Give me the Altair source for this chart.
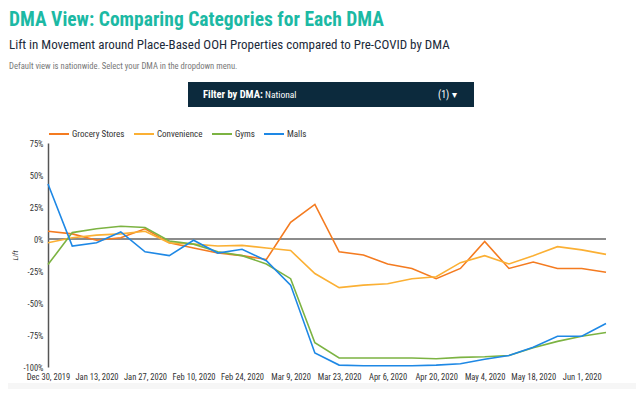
import altair as alt
import pandas as pd

weeks = ["2019-12-30", "2020-01-06", "2020-01-13", "2020-01-20", "2020-01-27", "2020-02-03",
         "2020-02-10", "2020-02-17", "2020-02-24", "2020-03-02", "2020-03-09", "2020-03-16",
         "2020-03-23", "2020-03-30", "2020-04-06", "2020-04-13", "2020-04-20", "2020-04-27",
         "2020-05-04", "2020-05-11", "2020-05-18", "2020-05-25", "2020-06-01", "2020-06-08"]

categories = ["Grocery Stores", "Convenience", "Gyms", "Malls"]
colors = ["#f47b20", "#fbb034", "#7cb342", "#1e88e5"]

grocery = [6, 4, -1, 1, 8, -3, -7, -11, -13, -16, 13, 27, -10, -12.5, -19.5, -23, -31, -23,
           -2, -23, -18, -23, -23, -26]
convenience = [-3, 1, 3, 4, 6, -3, -4, -5.5, -5, -7, -9, -27, -38, -36, -35, -31, -29.5, -18.5,
               -13, -19.5, -13, -6, -8.5, -12]
gyms = [-20, 5, 8, 10, 9, -1.5, -4, -10, -13, -19.5, -31, -81, -93, -93, -93, -93, -93.5, -92.5,
        -92, -91, -85, -80, -76, -73]
malls = [43, -5.5, -3, 5.5, -10, -13, -1, -11, -8, -17, -36, -89, -98.5, -99, -99, -99, -98.5,
         -97.5, -94, -91, -84.5, -76, -76, -66]

y_ticks = [-100, -75, -50, -25, 0, 25, 50, 75]
x_tick_dates = ["2019-12-30", "2020-01-13", "2020-01-27", "2020-02-10", "2020-02-24", "2020-03-09",
                "2020-03-23", "2020-04-06", "2020-04-20", "2020-05-04", "2020-05-18", "2020-06-01"]

title_text = "DMA View: Comparing Categories for Each DMA"
subtitle_text = "Lift in Movement around Place-Based OOH Properties compared to Pre-COVID by DMA"
note_text = "Default view is nationwide. Select your DMA in the dropdown menu."

FONT = "Liberation Sans Narrow, Roboto Condensed, Roboto, sans-serif"

series = {"Grocery Stores": grocery, "Convenience": convenience, "Gyms": gyms, "Malls": malls}
rows = []
for cat, vals in series.items():
    for d, v in zip(weeks, vals):
        rows.append({"date": d, "category": cat, "lift": v})
df = pd.DataFrame(rows)


def dt(s):
    y, m, d = s.split("-")
    return alt.DateTime(year=int(y), month=int(m), date=int(d), utc=True)


x_enc = alt.X(
    "date:T",
    timeUnit="utcyearmonthdate",
    scale=alt.Scale(domain=[dt(weeks[0]), dt(weeks[-1])], nice=False),
    axis=alt.Axis(values=[dt(s) for s in x_tick_dates], format="%b %-d, %Y", title=None,
                  domain=False, ticks=False, grid=False, labelFontSize=8.5, labelColor="#333",
                  labelPadding=5, labelFont=FONT, labelOverlap=False, labelFlush=False),
)

y_scale = alt.Scale(domain=[-100, 75], nice=False)
y_axis = alt.Axis(values=y_ticks, labelExpr="datum.value + '%'", title="Lift", titleFontStyle="italic",
                  titleFontWeight="normal", titleFontSize=8, titleColor="#333", titlePadding=3,
                  domain=True, domainColor="#555", domainWidth=1.5, ticks=False, grid=False,
                  labelFontSize=8.5, labelColor="#333", labelPadding=5, labelFont=FONT, titleFont=FONT,
                  labelOverlap=False)

lines = alt.Chart(df).mark_line(strokeWidth=1.6).encode(
    x=x_enc,
    y=alt.Y("lift:Q", scale=y_scale, axis=y_axis),
    color=alt.Color("category:N", sort=categories,
                    scale=alt.Scale(domain=categories, range=colors),
                    legend=alt.Legend(title=None, orient="none", legendX=0, legendY=-20,
                                      direction="horizontal", symbolType="stroke",
                                      symbolStrokeWidth=2, symbolSize=400, labelFontSize=9,
                                      labelColor="#333", labelFont=FONT, columnPadding=5,
                                      labelOffset=2)),
)

zero = alt.Chart(pd.DataFrame({"lift": [0]})).mark_rule(color="#666", strokeWidth=1.5).encode(
    y=alt.Y("lift:Q", scale=y_scale, axis=y_axis)
)

title = alt.Chart(pd.DataFrame({"t": [title_text]})).mark_text(
    align="left", baseline="alphabetic", font=FONT, fontSize=19.5,
    fontWeight="bold", color="#1cb9a4").encode(
    x=alt.value(-39), y=alt.value(-117), text="t:N")
sub = alt.Chart(pd.DataFrame({"t": [subtitle_text]})).mark_text(
    align="left", baseline="alphabetic", font=FONT, fontSize=13, color="#1b2a3a").encode(
    x=alt.value(-39), y=alt.value(-94), text="t:N")
note = alt.Chart(pd.DataFrame({"t": [note_text]})).mark_text(
    align="left", baseline="alphabetic", font=FONT, fontSize=8.6, color="#777").encode(
    x=alt.value(-39), y=alt.value(-74), text="t:N")

bar = alt.Chart(pd.DataFrame({"a": [0]})).mark_rect(color="#0c2a3d").encode(
    x=alt.value(140), x2=alt.value(426), y=alt.value(-61), y2=alt.value(-36))
f1 = alt.Chart(pd.DataFrame({"t": ["Filter by DMA:"]})).mark_text(
    align="left", baseline="middle", font=FONT, fontSize=10.5, fontWeight="bold", color="white").encode(
    x=alt.value(155), y=alt.value(-48), text="t:N")
f2 = alt.Chart(pd.DataFrame({"t": ["National"]})).mark_text(
    align="left", baseline="middle", font=FONT, fontSize=9.5, color="white").encode(
    x=alt.value(217), y=alt.value(-48), text="t:N")
f3 = alt.Chart(pd.DataFrame({"t": ["(1)  \u25be"]})).mark_text(
    align="left", baseline="middle", font=FONT, fontSize=10, color="white").encode(
    x=alt.value(390), y=alt.value(-48), text="t:N")

strip = alt.Chart(pd.DataFrame({"a": [0]})).mark_rect(color="#f6f6f6").encode(
    x=alt.value(-40), x2=alt.value(588), y=alt.value(240), y2=alt.value(260))

chart = alt.layer(strip, zero, lines, title, sub, note, bar, f1, f2, f3).properties(
    width=558, height=224,
    autosize=alt.AutoSizeParams(type="none"),
    padding={"left": 40, "top": 135, "right": 30, "bottom": 22},
    background="white",
).configure_view(stroke=None)

chart.save("out.html", embed_options={"renderer": "svg", "actions": False})
